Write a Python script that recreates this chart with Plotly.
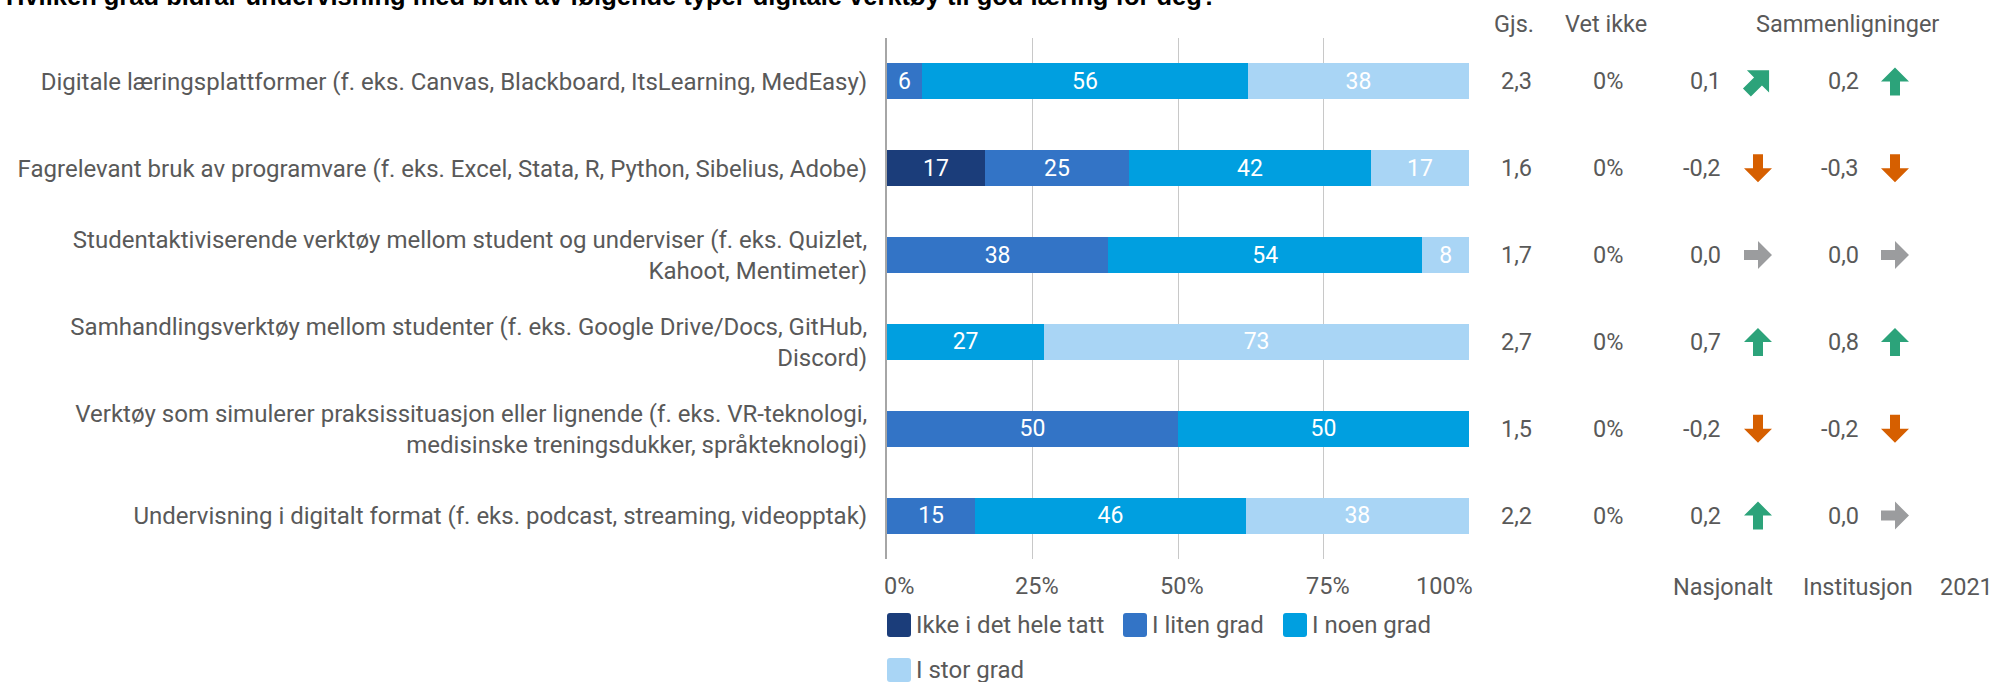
import math
import plotly.graph_objects as go

# ---------------- data ----------------
categories = [
    "Digitale læringsplattformer (f. eks. Canvas, Blackboard, ItsLearning, MedEasy)",
    "Fagrelevant bruk av programvare (f. eks. Excel, Stata, R, Python, Sibelius, Adobe)",
    "Studentaktiviserende verktøy mellom student og underviser (f. eks. Quizlet,<br>Kahoot, Mentimeter)",
    "Samhandlingsverktøy mellom studenter (f. eks. Google Drive/Docs, GitHub,<br>Discord)",
    "Verktøy som simulerer praksissituasjon eller lignende (f. eks. VR-teknologi,<br>medisinske treningsdukker, språkteknologi)",
    "Undervisning i digitalt format (f. eks. podcast, streaming, videopptak)",
]
series_names = ["Ikke i det hele tatt", "I liten grad", "I noen grad", "I stor grad"]
ikke = [0, 17, 0, 0, 0, 0]
liten = [6, 25, 38, 0, 50, 15]
noen = [56, 42, 54, 27, 50, 46]
stor = [38, 17, 8, 73, 0, 38]
gjs = [2.3, 1.6, 1.7, 2.7, 1.5, 2.2]
vet_ikke = [0, 0, 0, 0, 0, 0]
nasjonalt = [0.1, -0.2, 0.0, 0.7, -0.2, 0.2]
nasjonalt_dir = ["ne", "down", "right", "up", "down", "up"]
institusjon = [0.2, -0.3, 0.0, 0.8, -0.2, 0.0]
institusjon_dir = ["up", "down", "right", "up", "down", "right"]
x_ticks = [0, 25, 50, 75, 100]
x_tick_labels = ["0%", "25%", "50%", "75%", "100%"]
title = "Hvilken grad bidrar undervisning med bruk av følgende typer digitale verktøy til god læring for deg?"
col_headers = ["Gjs.", "Vet ikke", "Sammenligninger"]
col_footers = ["Nasjonalt", "Institusjon", "2021"]

# ---------------- style ----------------
W, H = 1995, 682
PL, PR, PT, PB = 887, 1469, 38, 559
colors = ["#1b3d7a", "#3374c6", "#009fe0", "#a9d5f5"]
arrow_colors = {"up": "#2ca37a", "ne": "#2ca37a", "down": "#d65f00", "right": "#9b9c9e"}
txt_color = "#595959"
FONT = "Roboto"
FS = 23.5
FS_LABEL = 24


def xp(px):
    return (px - PL) / (PR - PL)


def yp(py):
    return (PB - py) / (PB - PT)


def fmt(v):
    return f"{v:.1f}".replace(".", ",")


def tfont(size=FS):
    return dict(family=FONT, size=size, color=txt_color)


fig = go.Figure()
for name, vals, col in zip(series_names, [ikke, liten, noen, stor], colors):
    fig.add_trace(go.Bar(
        y=categories, x=vals, name=name, orientation="h",
        marker=dict(color=col, line=dict(width=0)),
        text=[str(v) if v else "" for v in vals],
        textposition="inside", insidetextanchor="middle", textangle=0,
        textfont=dict(color="white", size=23, family=FONT),
        showlegend=False, hoverinfo="skip",
    ))

ann = []
shapes = []

# title (cut off at the top, as in the reference)
ann.append(dict(text=title, xref="paper", yref="paper", x=xp(1219), y=yp(-4),
                xanchor="right", yanchor="middle", showarrow=False,
                font=dict(family="Liberation Sans", size=25.5, color="black", weight="bold")))

# column headers / footers
for t, px in zip(col_headers, [1514, 1606, 1847]):
    ann.append(dict(text=t, xref="paper", yref="paper", x=xp(px), y=yp(24), xanchor="center",
                    yanchor="middle", showarrow=False, font=tfont()))
for t, px in zip(col_footers, [1723, 1858, 1966]):
    ann.append(dict(text=t, xref="paper", yref="paper", x=xp(px), y=yp(587), xanchor="center",
                    yanchor="middle", showarrow=False, font=tfont()))

# x tick labels
for v, t in zip(x_ticks, x_tick_labels):
    anchor, shift = "center", 4
    if v == x_ticks[0]:
        anchor, shift = "left", -5
    elif v == x_ticks[-1]:
        anchor, shift = "right", 6
    ann.append(dict(text=t, xref="x", yref="paper", x=v, y=yp(586), xanchor=anchor, xshift=shift,
                    yanchor="middle", showarrow=False, font=tfont()))

# table values and arrows
px_per_y = (PB - PT) / len(categories)
px_per_x = PR - PL
base_arrow = [(0, -14), (14, 0), (5, 0), (5, 14), (-5, 14), (-5, 0), (-14, 0)]


def arrow_path(cx_px, row, direction):
    ang = {"up": 0, "ne": 45, "right": 90, "down": 180}[direction]
    s = 1.12 if direction == "ne" else 1.0
    a = math.radians(ang)
    pts = []
    for x, y in base_arrow:
        xr = (x * math.cos(a) - y * math.sin(a)) * s
        yr = (x * math.sin(a) + y * math.cos(a)) * s
        pts.append((xp(cx_px) + xr / px_per_x, row + yr / px_per_y))
    return "M" + "L".join(f"{x:.5f},{y:.5f}" for x, y in pts) + "Z"


for i, cat in enumerate(categories):
    ann.append(dict(text=fmt(gjs[i]), xref="paper", yref="y", x=xp(1516), y=i, xanchor="center",
                    yanchor="middle", showarrow=False, font=tfont()))
    ann.append(dict(text=f"{vet_ikke[i]}%", xref="paper", yref="y", x=xp(1608), y=i, xanchor="center",
                    yanchor="middle", showarrow=False, font=tfont()))
    ann.append(dict(text=fmt(nasjonalt[i]), xref="paper", yref="y", x=xp(1723), y=i, xanchor="right",
                    yanchor="middle", showarrow=False, font=tfont()))
    ann.append(dict(text=fmt(institusjon[i]), xref="paper", yref="y", x=xp(1861), y=i, xanchor="right",
                    yanchor="middle", showarrow=False, font=tfont()))
    for cx, d in [(1758, nasjonalt_dir[i]), (1895, institusjon_dir[i])]:
        shapes.append(dict(type="path", xref="paper", yref="y", path=arrow_path(cx, i, d),
                           fillcolor=arrow_colors[d], line=dict(width=0), layer="above"))

# custom legend (large rounded swatches)
legend_pos = [(887, 625), (1123, 625), (1283, 625), (887, 670)]
SW = 24
for (lx, ly), name, col in zip(legend_pos, series_names, colors):
    r = 3
    x0, x1 = lx, lx + SW
    y0, y1 = ly - SW / 2, ly + SW / 2
    path = (f"M{xp(x0 + r)},{yp(y0)} L{xp(x1 - r)},{yp(y0)} Q{xp(x1)},{yp(y0)} {xp(x1)},{yp(y0 + r)} "
            f"L{xp(x1)},{yp(y1 - r)} Q{xp(x1)},{yp(y1)} {xp(x1 - r)},{yp(y1)} "
            f"L{xp(x0 + r)},{yp(y1)} Q{xp(x0)},{yp(y1)} {xp(x0)},{yp(y1 - r)} "
            f"L{xp(x0)},{yp(y0 + r)} Q{xp(x0)},{yp(y0)} {xp(x0 + r)},{yp(y0)} Z")
    shapes.append(dict(type="path", xref="paper", yref="paper", path=path, fillcolor=col,
                       line=dict(width=0)))
    ann.append(dict(text=name, xref="paper", yref="paper", x=xp(lx + SW + 3), y=yp(ly), xanchor="left",
                    yanchor="middle", showarrow=False, font=tfont(FS_LABEL)))

fig.update_layout(
    width=W, height=H,
    margin=dict(l=PL, r=W - PR, t=PT, b=H - PB, autoexpand=False),
    barmode="stack", barnorm="percent", bargap=0.585,
    plot_bgcolor="white", paper_bgcolor="white",
    font=tfont(),
    annotations=ann, shapes=shapes,
    xaxis=dict(range=[0, 100], tickvals=x_ticks, showticklabels=False, showgrid=True,
               gridcolor="#c8c8c8", gridwidth=1, zeroline=False, showline=False, fixedrange=True),
    yaxis=dict(categoryorder="array", categoryarray=categories, autorange="reversed",
               showline=True, linecolor="#a6a6a6", linewidth=2, ticks="", ticklabelstandoff=13,
               tickfont=tfont(FS_LABEL), showgrid=False, zeroline=False, fixedrange=True),
)

fig.write_html("out.html", config={"displayModeBar": False},
               post_script="document.body.style.margin='0px';")
